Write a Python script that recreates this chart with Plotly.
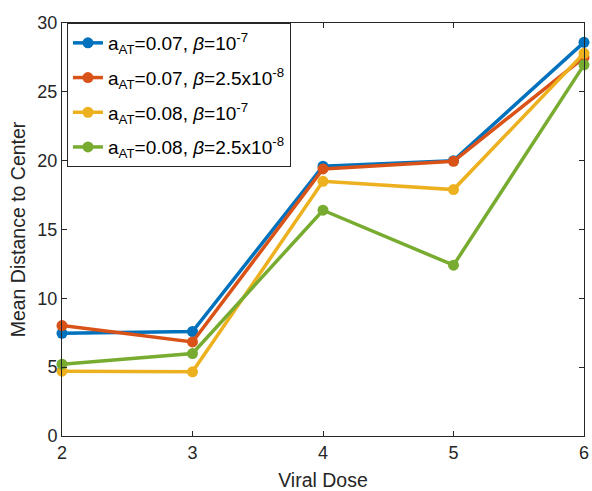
import plotly.graph_objects as go

# Viral dose levels on the x axis
viral_dose = [2, 3, 4, 5, 6]

# Mean distance to center for each parameter set
blue_a007_b1e7 = [7.46, 7.59, 19.6, 20.0, 28.6]
orange_a007_b25e8 = [8.02, 6.83, 19.4, 19.95, 27.5]
yellow_a008_b1e7 = [4.71, 4.66, 18.5, 17.9, 27.8]
green_a008_b25e8 = [5.22, 5.99, 16.4, 12.41, 26.96]

series_names = [
    "a<sub>AT</sub>=0.07, <i>β</i>=10<sup>-7</sup>",
    "a<sub>AT</sub>=0.07, <i>β</i>=2.5x10<sup>-8</sup>",
    "a<sub>AT</sub>=0.08, <i>β</i>=10<sup>-7</sup>",
    "a<sub>AT</sub>=0.08, <i>β</i>=2.5x10<sup>-8</sup>",
]
series_values = [blue_a007_b1e7, orange_a007_b25e8, yellow_a008_b1e7, green_a008_b25e8]
series_colors = ["#0072BD", "#D95319", "#EDB120", "#77AC30"]

y_ticks = [0, 5, 10, 15, 20, 25, 30]

fig = go.Figure()
for i, (name, vals, col) in enumerate(zip(series_names, series_values, series_colors)):
    fig.add_trace(go.Scatter(
        x=viral_dose, y=vals, name=name, mode="lines+markers",
        line=dict(color=col, width=3.5),
        marker=dict(color=col, size=11),
        legendgroup=f"g{i}",
        cliponaxis=False,
    ))

axis_common = dict(
    showline=True, linecolor="#262626", linewidth=1, mirror="allticks",
    ticks="inside", ticklen=5, tickcolor="#262626", showgrid=False,
    zeroline=False, tickfont=dict(size=18, color="#262626"),
    ticklabeloverflow="allow",
)

fig.update_layout(
    width=592, height=491,
    margin=dict(l=62, r=3, t=23, b=54),
    paper_bgcolor="white", plot_bgcolor="white",
    font=dict(family="Liberation Sans, Arial, sans-serif", color="#262626"),
    xaxis=dict(range=[2, 6], tickvals=viral_dose,
               title=dict(text="Viral Dose", font=dict(size=19.5), standoff=12),
               **axis_common),
    yaxis=dict(range=[0, 30], tickvals=y_ticks,
               title=dict(text="Mean Distance to Center", font=dict(size=19.5), standoff=6),
               **axis_common),
    legend=dict(
        x=0.0095, y=1.0, xanchor="left", yanchor="top",
        bgcolor="white", bordercolor="#262626", borderwidth=1,
        font=dict(size=19, color="#000000"),
        tracegroupgap=7, itemwidth=30,
    ),
)

fig.write_html("out.html")
